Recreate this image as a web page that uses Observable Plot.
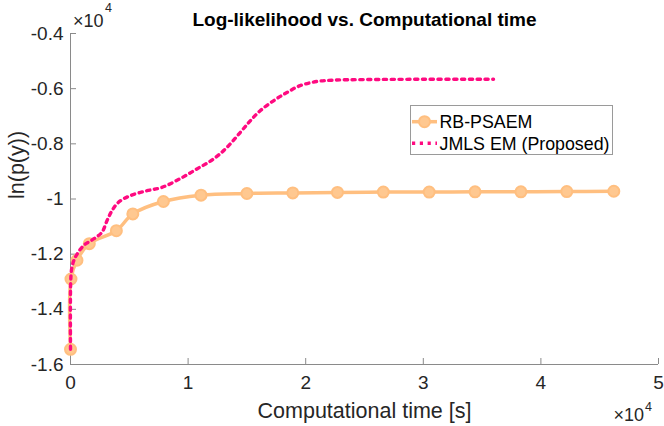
<!DOCTYPE html>
<html>
<head>
<meta charset="utf-8">
<script src="https://cdn.jsdelivr.net/npm/d3@7"></script>
<script src="https://cdn.jsdelivr.net/npm/@observablehq/plot@0.6"></script>
<style>
  html, body { margin: 0; padding: 0; background: #fff; }
  #wrap { position: relative; width: 664px; height: 426px; font-family: "Liberation Sans", Arial, Helvetica, sans-serif; }
  #legend { position: absolute; left: 410px; top: 105px; }
</style>
</head>
<body>
<div id="wrap"></div>
<script>
// ---- data ----
const titleText = "Log-likelihood vs. Computational time";
const xLabel = "Computational time [s]";
const yLabel = "ln(p(y))";
const seriesNames = ["RB-PSAEM", "JMLS EM (Proposed)"];
const seriesColors = ["#FFBF80", "#FF0A80"];

const rbTime = [0, 40, 550, 1600, 3900, 5300, 7900, 11100, 15000, 18900, 22700, 26600, 30500, 34400, 38300, 42200, 46200];
const rbLL   = [-15450, -12900, -12220, -11620, -11150, -10540, -10090, -9860, -9800, -9780, -9760, -9750, -9750, -9740, -9740, -9730, -9720];

const jmlsTime = [0, 20, 120, 400, 1110, 1960, 2670, 3100, 3520, 4080, 5080, 6500, 7770, 9330, 10750, 12160, 13300, 14430, 15280, 16130, 17260, 18400, 19530, 20950, 22360, 25000, 30000, 35970];
const jmlsLL   = [-15450, -12960, -12480, -12120, -11690, -11450, -11210, -10790, -10430, -10120, -9880, -9700, -9580, -9260, -8910, -8550, -8130, -7590, -7170, -6800, -6440, -6140, -5890, -5740, -5690, -5670, -5660, -5660];

const xTicks = [0, 10000, 20000, 30000, 40000, 50000];
const yTicks = [-16000, -14000, -12000, -10000, -8000, -6000, -4000];

// ---- build ----
const rb = rbTime.map((t, i) => ({t, ll: rbLL[i]}));
const jm = jmlsTime.map((t, i) => ({t, ll: jmlsLL[i]}));
const fmt = v => String(+(v / 1e4).toFixed(1));

const W = 664, H = 426, mL = 70, mR = 6, mT = 33, mB = 62;
const pw = W - mL - mR, ph = H - mT - mB;
const axisColor = "#8a8a8a";
const textColor = "#262626";
const dash = "3.2 4.6";

const chart = Plot.plot({
  width: W, height: H,
  marginLeft: mL, marginRight: mR, marginTop: mT, marginBottom: mB,
  style: {fontFamily: '"Liberation Sans", Arial, Helvetica, sans-serif', fontSize: "19px", color: textColor, background: "white"},
  x: {domain: [0, 50000], ticks: xTicks},
  y: {domain: [-16000, -4000], ticks: yTicks},
  marks: [
    // axis lines
    Plot.ruleX([0], {stroke: axisColor, strokeWidth: 1}),
    Plot.ruleY([-16000], {stroke: axisColor, strokeWidth: 1}),
    // inward ticks
    Plot.tickY(yTicks, {y: d => d, insetRight: pw - 6, stroke: axisColor}),
    Plot.tickX(xTicks, {x: d => d, insetTop: ph - 6, stroke: axisColor}),
    // tick labels
    Plot.axisX({ticks: xTicks, tickSize: 0, tickPadding: 11, tickFormat: fmt, label: null, fontSize: 19, fill: textColor}),
    Plot.axisY({ticks: yTicks, tickSize: 0, tickPadding: 7, tickFormat: fmt, label: null, fontSize: 19, fill: textColor}),
    // series
    Plot.line(rb, {x: "t", y: "ll", stroke: seriesColors[0], strokeWidth: 3.5, curve: "catmull-rom"}),
    Plot.dot(rb, {x: "t", y: "ll", r: 5.5, fill: "#FFC890", stroke: seriesColors[0], strokeWidth: 2}),
    Plot.line(jm, {x: "t", y: "ll", stroke: seriesColors[1], strokeWidth: 3.4, strokeDasharray: dash, curve: "catmull-rom"}),
    // texts
    Plot.text([titleText], {frameAnchor: "top", dy: -8, lineAnchor: "bottom", fontWeight: "bold", fontSize: 19, fill: "#000"}),
    Plot.text([xLabel], {frameAnchor: "bottom", dy: 53, lineAnchor: "bottom", fontSize: 21.5, fill: textColor}),
    Plot.text([yLabel], {frameAnchor: "left", dx: -53.4, rotate: -90, lineAnchor: "middle", fontSize: 21.5, fill: textColor}),
    Plot.text(["×10"], {frameAnchor: "top-left", textAnchor: "start", dx: 2.5, dy: -6.3, lineAnchor: "bottom", fontSize: 18, fill: textColor}),
    Plot.text(["4"], {frameAnchor: "top-left", textAnchor: "start", dx: 34.5, dy: -21.3, lineAnchor: "bottom", fontSize: 12.5, fill: textColor}),
    Plot.text(["×10"], {frameAnchor: "bottom-right", textAnchor: "start", dx: -45, dy: 56, lineAnchor: "bottom", fontSize: 18, fill: textColor}),
    Plot.text(["4"], {frameAnchor: "bottom-right", textAnchor: "start", dx: -13.5, dy: 46, lineAnchor: "bottom", fontSize: 12.5, fill: textColor})
  ]
});

const wrap = document.getElementById("wrap");
wrap.appendChild(chart);

// ---- legend ----
const lw = 203, lh = 50;
const leg = d3.create("svg").attr("id", "legend").attr("width", lw).attr("height", lh);
leg.append("rect").attr("x", 0.5).attr("y", 0.5).attr("width", lw - 1).attr("height", lh - 1)
  .attr("fill", "white").attr("stroke", "#9a9a9a").attr("stroke-width", 1);
const rowsY = [16.7, 38.3];
seriesNames.forEach((name, i) => {
  const y = rowsY[i];
  const ln = leg.append("line").attr("x1", 2).attr("x2", 27).attr("y1", y).attr("y2", y)
    .attr("stroke", seriesColors[i]).attr("stroke-width", i === 0 ? 3.5 : 3.4);
  if (i === 1) ln.attr("stroke-dasharray", dash);
  if (i === 0) leg.append("circle").attr("cx", 14.5).attr("cy", y).attr("r", 5.5)
    .attr("fill", "#FFC890").attr("stroke", seriesColors[0]).attr("stroke-width", 2);
  leg.append("text").attr("x", 29.5).attr("y", y + 6.3)
    .attr("font-family", '"Liberation Sans", Arial, Helvetica, sans-serif')
    .attr("font-size", 17.8).attr("fill", "#000").text(name);
});
wrap.appendChild(leg.node());
</script>
</body>
</html>
